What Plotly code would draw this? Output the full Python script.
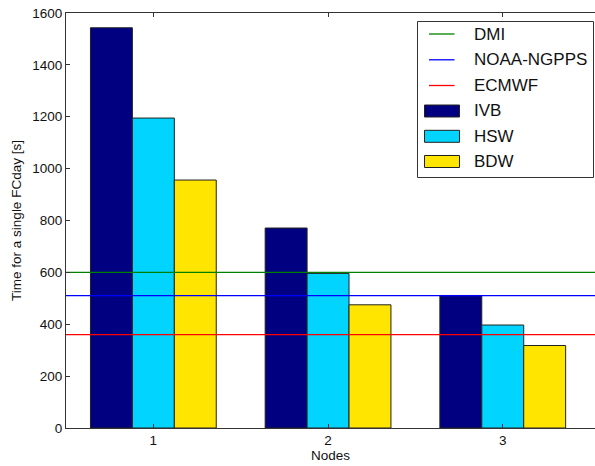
import plotly.graph_objects as go

# Benchmark data: time per forecast day on 1-3 nodes
nodes = [1, 2, 3]
node_labels = ["1", "2", "3"]

ref_names = ["DMI", "NOAA-NGPPS", "ECMWF"]
ref_times = [600, 510, 360]
ref_colors = ["#008000", "#0000ff", "#ff0000"]

cpu_names = ["IVB", "HSW", "BDW"]
ivb_times = [1543, 771, 511]
hsw_times = [1195, 596, 397]
bdw_times = [956, 475, 318]
cpu_times = [ivb_times, hsw_times, bdw_times]
cpu_colors = ["#000080", "#00d4ff", "#ffe500"]

y_ticks = [0, 200, 400, 600, 800, 1000, 1200, 1400, 1600]

X_RANGE = [0.5, 3.528]
Y_RANGE = [0, 1600]

FONT = "Liberation Sans, Arial, Helvetica, sans-serif"
AXIS_COLOR = "#333333"
LINE_W = 1.3

fig = go.Figure()

# Reference times as horizontal lines across the whole axis (drawn under the bars)
for name, t, c in zip(ref_names, ref_times, ref_colors):
    fig.add_trace(go.Scatter(
        x=X_RANGE, y=[t, t], mode="lines", name=name,
        line=dict(color=c, width=LINE_W), showlegend=False, hoverinfo="name+y",
    ))

# Grouped bars for each CPU generation
for name, vals, c in zip(cpu_names, cpu_times, cpu_colors):
    fig.add_trace(go.Bar(
        x=nodes, y=vals, name=name, showlegend=False,
        marker=dict(color=c, line=dict(color="#222222", width=1)),
    ))

# Plot-area geometry in pixels (used to place the legend box)
W, H = 595, 466
L, R, T, B = 66, 0, 13, 38
pw, ph = W - L - R, H - T - B


def px_x(p):
    return (p - L) / pw


def px_y(p):
    return (H - B - p) / ph


shapes = []
annotations = []

# Legend frame
shapes.append(dict(type="rect", xref="paper", yref="paper",
                   x0=px_x(417.5), x1=px_x(593.5), y0=px_y(177.5), y1=px_y(21.5),
                   line=dict(color="#333333", width=1), fillcolor="white", layer="above"))

row_y = [34, 59.8, 85.5, 111, 136.3, 161.5]
legend_items = ([("line", n, c) for n, c in zip(ref_names, ref_colors)] +
                [("bar", n, c) for n, c in zip(cpu_names, cpu_colors)])
for (kind, name, c), yy in zip(legend_items, row_y):
    if kind == "line":
        shapes.append(dict(type="line", xref="paper", yref="paper",
                           x0=px_x(429), x1=px_x(454.5), y0=px_y(yy), y1=px_y(yy),
                           line=dict(color=c, width=LINE_W), layer="above"))
    else:
        shapes.append(dict(type="rect", xref="paper", yref="paper",
                           x0=px_x(424.5), x1=px_x(459.5), y0=px_y(yy + 6), y1=px_y(yy - 6),
                           line=dict(color="#222222", width=1), fillcolor=c, layer="above"))
    annotations.append(dict(xref="paper", yref="paper", x=px_x(472), y=px_y(yy),
                            text=name, showarrow=False, xanchor="left", yanchor="middle",
                            font=dict(family=FONT, size=17, color="#111111")))

fig.update_layout(
    width=W, height=H,
    margin=dict(l=L, r=R, t=T, b=B, pad=0),
    paper_bgcolor="white", plot_bgcolor="white",
    barmode="group", bargap=0.28, bargroupgap=0,
    font=dict(family=FONT, size=13.5, color="#111111"),
    shapes=shapes, annotations=annotations,
    showlegend=False,
)

fig.update_xaxes(
    range=X_RANGE, tickmode="array", tickvals=nodes, ticktext=node_labels,
    showgrid=False, zeroline=False,
    showline=True, linecolor=AXIS_COLOR, linewidth=1, mirror="ticks",
    ticks="inside", ticklen=4, tickcolor=AXIS_COLOR, tickwidth=1,
    tickfont=dict(size=13.5),
    title=dict(text="Nodes", font=dict(size=13.5), standoff=3),
)
fig.update_yaxes(
    range=Y_RANGE, tickmode="array", tickvals=y_ticks,
    showgrid=False, zeroline=False,
    showline=True, linecolor=AXIS_COLOR, linewidth=1, mirror=False,
    ticks="inside", ticklen=4, tickcolor=AXIS_COLOR, tickwidth=1,
    tickfont=dict(size=13.5),
    title=dict(text="Time for a single FCday [s]", font=dict(size=13.5), standoff=7),
)

fig.write_html("out.html")
